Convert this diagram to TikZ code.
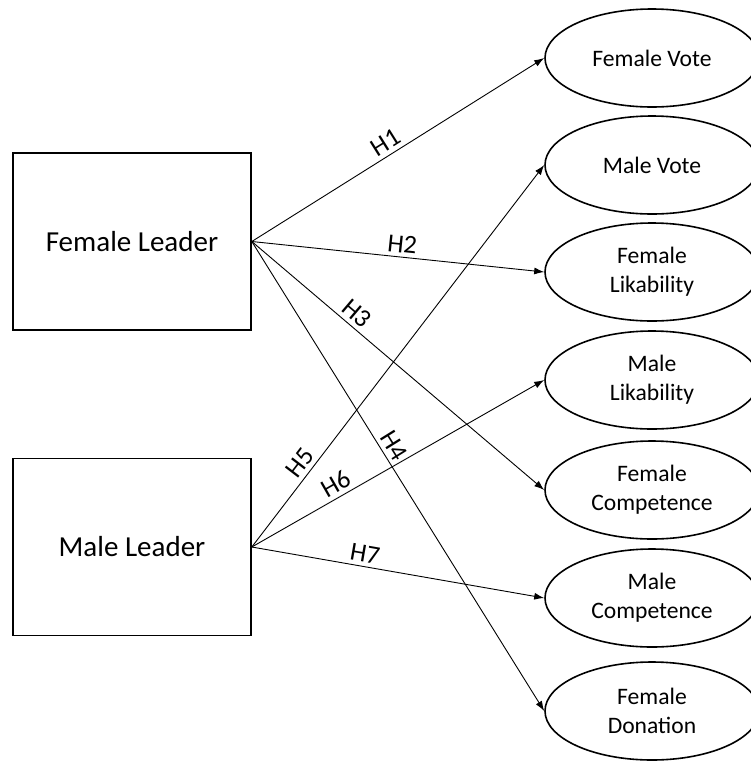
\documentclass[tikz,border=0pt]{standalone}
\usepackage{fontspec}
\setmainfont{Carlito}
\usetikzlibrary{arrows.meta,shapes.geometric}
\begin{document}
\begin{tikzpicture}[x=1pt,y=-1pt,
  leader/.style={draw, line width=1.6pt, minimum width=238pt, minimum height=177pt, inner sep=0pt, font=\fontsize{29}{34}\selectfont},
  outcome/.style={draw, ellipse, line width=1.6pt, minimum width=214pt, minimum height=98pt, inner sep=0pt, align=center, font=\fontsize{23.6}{29}\selectfont},
  link/.style={-{Latex[length=10pt,width=7pt]}, line width=0.9pt},
  hlab/.style={sloped, above, font=\fontsize{26}{30}\selectfont, inner sep=4pt}]
\useasboundingbox (0,0) rectangle (751,761);
\node[leader] (fl) at (132,241.5) {Female Leader};
\node[leader] (ml) at (132,547) {Male Leader};
\node[outcome] (fv) at (652,58) {Female Vote};
\node[outcome] (mv) at (652,165) {Male Vote};
\node[outcome] (flk) at (652,272) {Female\\Likability};
\node[outcome] (mlk) at (652,380) {Male\\Likability};
\node[outcome] (fc) at (652,490) {Female\\Competence};
\node[outcome] (mc) at (652,598) {Male\\Competence};
\node[outcome] (fd) at (652,711) {Female\\Donation};
\draw[link] (fl.east) -- (fv.west) node[hlab, pos=0.48] {H1};
\draw[link] (fl.east) -- (flk.west) node[hlab, pos=0.51] {H2};
\draw[link] (fl.east) -- (fc.west) node[hlab, pos=0.33] {H3};
\draw[link] (fl.east) -- (fd.west) node[hlab, pos=0.45] {H4};
\draw[link] (ml.east) -- (mv.west) node[hlab, pos=0.2] {H5};
\draw[link] (ml.east) -- (mlk.west) node[hlab, pos=0.31] {H6};
\draw[link] (ml.east) -- (mc.west) node[hlab, pos=0.38] {H7};
\end{tikzpicture}
\end{document}
